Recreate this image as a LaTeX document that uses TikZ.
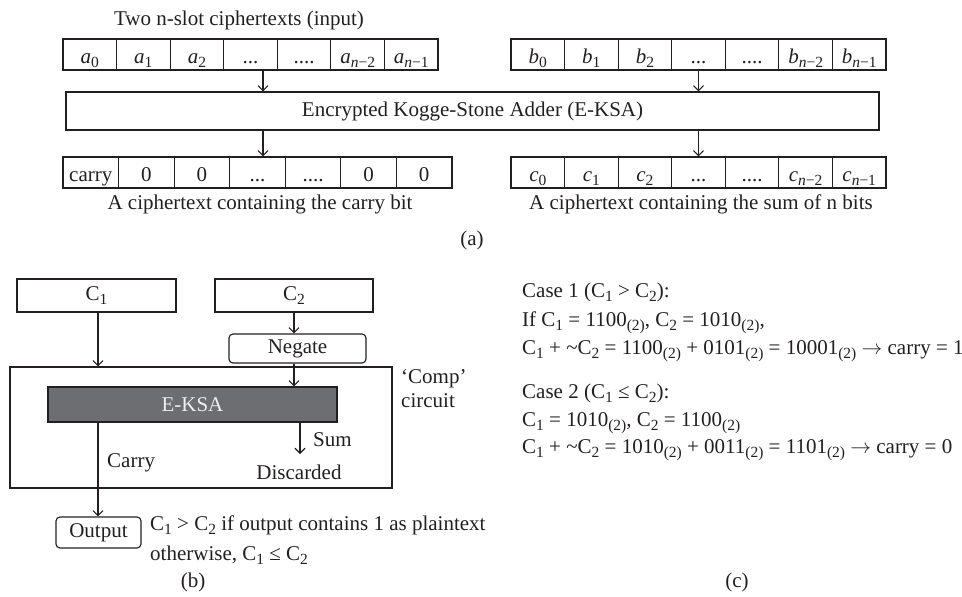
\documentclass[tikz,border=0pt]{standalone}
\usepackage{amsmath}
\usepackage{fontspec}
\setmainfont{Liberation Serif}
\usetikzlibrary{arrows.meta,calc}

\definecolor{ink}{HTML}{231F20}
\definecolor{ksagray}{HTML}{6D6E71}
\definecolor{ksatext}{HTML}{EEEEEE}

% upright subscript in the text font, lowered below the baseline
\newcommand\lo[1]{\raisebox{-0.22em}{\fontsize{15.5}{16}\selectfont #1}}
% dotted filler cells
\newcommand\dthree{...}
\newcommand\dfour{....}
% long arrow of the worked examples
\newcommand\goesto{\ensuremath{\rightarrow}}

\tikzset{
  every node/.style={font=\fontsize{21}{24}\selectfont, text=ink},
  inkline/.style={draw=ink, line width=1.15pt},
  cell/.style={inkline, minimum height=31, inner sep=0pt, text height=17, text depth=0},
  cellA/.style={cell, minimum width=53.57},
  cellB/.style={cell, minimum width=55.57},
  box/.style={inkline, inner sep=0pt},
  rbox/.style={inkline, inner sep=0pt, rounded corners=4pt},
  arr/.style={draw=ink, line width=1.15pt, -{Straight Barb[length=5pt,width=10pt]}},
  txt/.style={inner sep=0pt},
}

\begin{document}
\begin{tikzpicture}[x=1pt,y=-1pt]
\useasboundingbox (0,0) rectangle (962,597);

% ---------------- (a) ----------------
\node[txt, anchor=base] (title) at (239,25) {Two n-slot ciphertexts (input)};

\foreach \lab [count=\i from 0] in {{\textit{a}\lo{0}},{\textit{a}\lo{1}},{\textit{a}\lo{2}},\dthree,\dfour,{\textit{a}\lo{\textit{n}−2}},{\textit{a}\lo{\textit{n}−1}}}
  \node[cellA] (a\i) at ({63+26.785+\i*53.57},54.5) {\lab};
\foreach \lab [count=\i from 0] in {{\textit{b}\lo{0}},{\textit{b}\lo{1}},{\textit{b}\lo{2}},\dthree,\dfour,{\textit{b}\lo{\textit{n}−2}},{\textit{b}\lo{\textit{n}−1}}}
  \node[cellA] (b\i) at ({511+26.785+\i*53.57},54.5) {\lab};

\node[box, minimum width=813, minimum height=38] (ksa) at (472.5,111)
  {Encrypted Kogge-Stone Adder (E-KSA)};

\foreach \lab [count=\i from 0] in {carry,0,0,\dthree,\dfour,0,0}
  \node[cellB] (z\i) at ({63+27.785+\i*55.57},172.5) {\lab};
\foreach \lab [count=\i from 0] in {{\textit{c}\lo{0}},{\textit{c}\lo{1}},{\textit{c}\lo{2}},\dthree,\dfour,{\textit{c}\lo{\textit{n}−2}},{\textit{c}\lo{\textit{n}−1}}}
  \node[cellA] (c\i) at ({511+26.785+\i*53.57},172.5) {\lab};

\coordinate (ax) at (263,0);
\draw[arr] (a3.south -| ax) -- (ksa.north -| ax);
\draw[arr] (b3.south) -- (ksa.north -| b3);
\draw[arr] (ksa.south -| ax) -- (z3.north -| ax);
\draw[arr] (ksa.south -| b3) -- (c3.north);

\node[txt, anchor=base] (capcarry) at (260,209) {A ciphertext containing the carry bit};
\node[txt, anchor=base] (capsum) at (701,209) {A ciphertext containing the sum of n bits};
\node[txt, anchor=base] (la) at (472,245) {(a)};

% ---------------- (b) ----------------
\node[box, minimum width=159, minimum height=33] (C1) at (96.5,295.5) {C\lo{1}};
\node[box, minimum width=158, minimum height=33] (C2) at (294,295.5) {C\lo{2}};
\node[rbox, minimum width=137, minimum height=29] (neg) at (297.5,348.5) {Negate};
\node[box, minimum width=382, minimum height=121] (comp) at (201,427.5) {};
\node[box, fill=ksagray, text=ksatext, minimum width=289, minimum height=35] (eksa) at (192.5,404.5) {E-KSA};
\node[rbox, minimum width=85, minimum height=31] (out) at (98.5,532.5) {Output};

\coordinate (cx) at (98,0);
\coordinate (sumend) at (300,454);
\draw[arr] (C1.south -| cx) -- (comp.north -| cx);
\draw[arr] (C2.south -| C2) -- (neg.north -| C2);
\draw[arr] (neg.south -| C2) -- (eksa.north -| C2);
\draw[arr] (eksa.south -| sumend) -- (sumend);
\draw[arr] (eksa.south -| cx) -- (out.north -| cx);

\node[txt, anchor=base west] (lsum) at (313,446) {Sum};
\node[txt, anchor=base west] (lcarry) at (107,467) {Carry};
\node[txt, anchor=base] (ldisc) at (299,479) {Discarded};
\node[txt, anchor=base west] (lcomp1) at (401,383) {‘Comp’};
\node[txt, anchor=base west] (lcomp2) at (401,407) {circuit};
\node[txt, anchor=base west] (cond1) at (150,530) {C\lo{1} > C\lo{2} if output contains 1 as plaintext};
\node[txt, anchor=base west] (cond2) at (150,560) {otherwise, C\lo{1} ≤ C\lo{2}};
\node[txt, anchor=base] (lb) at (193,587) {(b)};

% ---------------- (c) ----------------
\node[txt, anchor=base west] (k1) at (522,297) {Case 1 (C\lo{1} > C\lo{2}):};
\node[txt, anchor=base west] (k2) at (522,326) {If C\lo{1} = 1100\lo{(2)}, C\lo{2} = 1010\lo{(2)},};
\node[txt, anchor=base west] (k3) at (522,354) {C\lo{1} + \textasciitilde C\lo{2} = 1100\lo{(2)} + 0101\lo{(2)} = 10001\lo{(2)} \goesto{} carry = 1};
\node[txt, anchor=base west] (k4) at (522,398) {Case 2 (C\lo{1} ≤ C\lo{2}):};
\node[txt, anchor=base west] (k5) at (522,426) {C\lo{1} = 1010\lo{(2)}, C\lo{2} = 1100\lo{(2)}};
\node[txt, anchor=base west] (k6) at (522,453) {C\lo{1} + \textasciitilde C\lo{2} = 1010\lo{(2)} + 0011\lo{(2)} = 1101\lo{(2)} \goesto{} carry = 0};
\node[txt, anchor=base] (lc) at (737,587) {(c)};
\end{tikzpicture}
\end{document}
